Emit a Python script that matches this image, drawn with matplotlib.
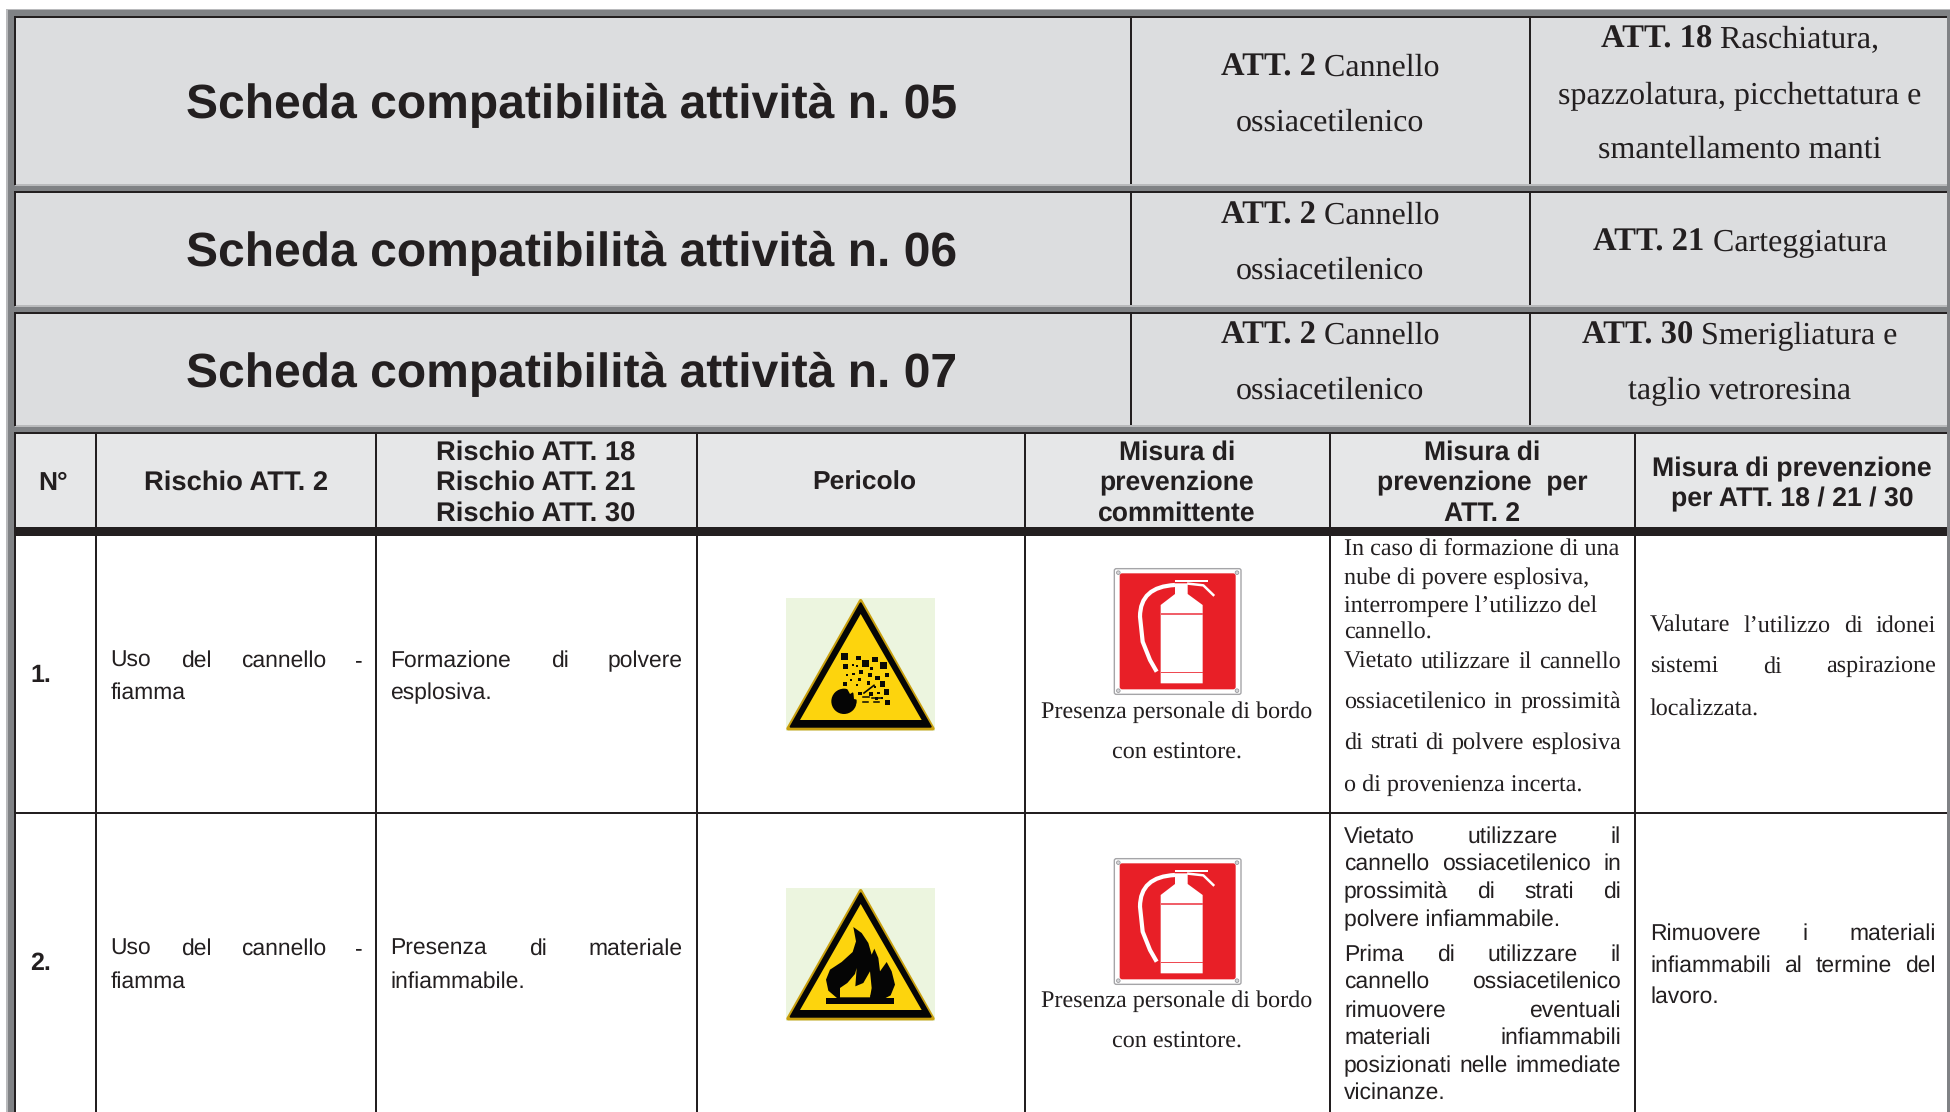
import matplotlib
matplotlib.use('Agg')
import matplotlib.pyplot as plt
from matplotlib.patches import Rectangle, Polygon, Circle, PathPatch, FancyBboxPatch
from matplotlib.path import Path

plt.rcParams['text.hinting'] = 'none'

SANS = 'Liberation Sans'
SERIF = 'Liberation Serif'
DARK = '#231f20'
GRAY = '#808285'
LIGHT = '#b9babc'
TITLE_BG = '#dcdddf'
HEAD_BG = '#e6e7e8'

# testi della tabella
titles = ['Scheda compatibilità attività n. 05',
          'Scheda compatibilità attività n. 06',
          'Scheda compatibilità attività n. 07']
att2_lines = [('ATT. 2', ' Cannello'), ('', 'ossiacetilenico')]
att_right = [
    [('ATT. 18', ' Raschiatura,'), ('', 'spazzolatura, picchettatura e'), ('', 'smantellamento manti')],
    [('ATT. 21', ' Carteggiatura')],
    [('ATT. 30', ' Smerigliatura e'), ('', 'taglio vetroresina')],
]
headers = [
    ['N°'],
    ['Rischio ATT. 2'],
    ['Rischio ATT. 18', 'Rischio ATT. 21', 'Rischio ATT. 30'],
    ['Pericolo'],
    ['Misura di', 'prevenzione', 'committente'],
    ['Misura di', 'prevenzione  per', 'ATT. 2'],
    ['Misura di prevenzione', 'per ATT. 18 / 21 / 30'],
]
row_numbers = ['1.', '2.']
rischio_att2 = ['Uso del cannello -', 'fiamma']
rischio_other = [['Formazione di polvere', 'esplosiva.'],
                 ['Presenza di materiale', 'infiammabile.']]
committente = ['Presenza personale di bordo', 'con estintore.']
prev_att2_r1_left = ['In caso di formazione di una', 'nube di povere esplosiva,',
                     'interrompere l’utilizzo del', 'cannello.']
prev_att2_r1_just = ['Vietato utilizzare il cannello', 'ossiacetilenico in prossimità',
                     'di strati di polvere esplosiva']
prev_att2_r1_last = 'o di provenienza incerta.'
prev_att2_r2 = ['Vietato utilizzare il', 'cannello ossiacetilenico in', 'prossimità di strati di',
                'polvere infiammabile.', 'Prima di utilizzare il', 'cannello ossiacetilenico',
                'rimuovere eventuali', 'materiali infiammabili',
                'posizionati nelle immediate', 'vicinanze.']
prev_att2_r2_justified = [True, True, True, False, True, True, True, True, True, False]
prev_other_r1 = ['Valutare l’utilizzo di idonei', 'sistemi di aspirazione', 'localizzata.']
prev_other_r2 = ['Rimuovere i materiali', 'infiammabili al termine del', 'lavoro.']

fig = plt.figure(figsize=(19.5, 11.12), dpi=100)
ax = fig.add_axes([0, 0, 1, 1])
ax.set_xlim(0, 1950)
ax.set_ylim(1112, 0)
ax.axis('off')
renderer = fig.canvas.get_renderer()


def box(x0, y0, x1, y1, color, z=1):
    ax.add_patch(Rectangle((x0, y0), x1 - x0, y1 - y0, fc=color, ec='none', zorder=z))


def width(s, **kw):
    t = ax.text(0, 0, s, **kw)
    w = t.get_window_extent(renderer).width
    t.remove()
    return w


def put(x, y, s, ha='left', **kw):
    ax.text(x, y, s, ha=ha, va='baseline', color=DARK, **kw)


def justified(x0, x1, y, s, **kw):
    words = s.split()
    widths = [width(w, **kw) for w in words]
    gap = (x1 - x0 - sum(widths)) / (len(words) - 1)
    x = x0
    for w, wd in zip(words, widths):
        put(x, y, w, **kw)
        x += wd + gap


def mixed(cx, y, bold, plain, size):
    # riga centrata con parte in grassetto e parte normale
    if not bold:
        put(cx, y, plain, ha='center', family=SERIF, fontsize=size)
        return
    b = width(bold, family=SERIF, fontsize=size + 0.5, fontweight='bold')
    p = width(plain.replace(' ', '\u00a0'), family=SERIF, fontsize=size)
    x = cx - (b + p) / 2
    put(x, y, bold, family=SERIF, fontsize=size + 0.5, fontweight='bold')
    put(x + b, y, plain.replace(' ', '\u00a0'), family=SERIF, fontsize=size)


def warning_sign(x0, y0, kind):
    # coordinate in pixel dello zoom 3x, origine x0,y0
    P = lambda pts: [(x0 + a / 3, y0 + b / 3) for a, b in pts]
    box(x0 + 78 / 3, y0, x0 + 525 / 3, y0 + 398 / 3 + 0, '#ecf5df', z=2)
    ax.add_patch(Polygon(P([(302, 8), (84, 392), (519, 392)]), fc='#e0b00f', ec='#c9a00f', lw=2.5,
                         joinstyle='round', zorder=3))
    ax.add_patch(Polygon(P([(302, 16), (92, 386), (512, 386)]), fc='#050505', ec='#050505', lw=1.5,
                         joinstyle='round', zorder=3))
    ax.add_patch(Polygon(P([(302, 48), (120, 366), (485, 366)]), fc='#fdd40d', ec='none', zorder=3))
    if kind == 'explosion':
        ax.add_patch(Circle((x0 + 252 / 3, y0 + 310 / 3), 38 / 3, fc='#050505', ec='none', zorder=4))
        ax.add_patch(Polygon(P([(258, 266), (270, 288), (280, 282), (282, 303), (296, 306), (288, 322), (302, 332), (312, 290), (290, 262)]),
                             fc='#fdd40d', ec='none', zorder=4))
        frags = [(254, 175, 10), (295, 180, 7), (317, 197, 10), (345, 185, 8), (370, 203, 11), (257, 206, 8),
                 (278, 200, 3), (292, 205, 3), (303, 222, 6), (335, 212, 5), (262, 230, 3), (281, 228, 4),
                 (330, 232, 6), (353, 240, 7), (381, 232, 6), (298, 245, 5), (255, 258, 5), (272, 246, 3),
                 (325, 255, 5), (367, 258, 8), (290, 262, 3), (345, 268, 3), (300, 287, 5), (332, 288, 6),
                 (380, 282, 8), (355, 285, 4), (383, 313, 8), (365, 300, 3), (350, 302, 4)]
        for a, b, r in frags:
            box(x0 + (a - r) / 3, y0 + (b - r) / 3, x0 + (a + r) / 3, y0 + (b + r) / 3, '#0a0a05', z=4)
        ax.plot([x0 + 312 / 3, x0 + 342 / 3], [y0 + 285 / 3, y0 + 262 / 3], color='#0a0a05', lw=1.2, zorder=4)
        for a0, a1, b in [(310, 328, 297), (335, 362, 300), (310, 325, 313), (342, 358, 313)]:
            ax.plot([x0 + a0 / 3, x0 + a1 / 3], [y0 + b / 3, y0 + b / 3], color='#0a0a05', lw=1.1, zorder=4)
    else:
        ax.add_patch(Polygon(P([(198, 331), (402, 331), (402, 347), (198, 347)]), fc='#050505', ec='none', zorder=4))
        ax.add_patch(Polygon(P([(232, 331), (205, 308), (198, 275), (210, 245), (245, 222), (278, 192), (288, 160), (280, 117),
                                (305, 135), (325, 165), (335, 200), (343, 182), (355, 210), (360, 250), (380, 222), (395, 250),
                                (405, 290), (392, 322), (375, 331)]), fc='#050505', ec='none', zorder=4))
        ax.add_patch(Polygon(P([(240, 328), (240, 300), (262, 285), (285, 258), (290, 240), (286, 295), (310, 285), (330, 250), (335, 300), (330, 328)]),
                             fc='#fdd40d', ec='none', zorder=4))
        ax.add_patch(Polygon(P([(330, 325), (345, 300), (358, 262), (365, 285), (352, 315), (345, 328)]),
                             fc='#050505', ec='none', zorder=4))


def fire_sign(x0, y0):
    P = lambda pts: [(x0 + a / 3, y0 + b / 3) for a, b in pts]
    ax.add_patch(FancyBboxPatch((x0 + 1063 / 3, y0 - 4 / 3), 380 / 3, 377 / 3, boxstyle='round,pad=0,rounding_size=2',
                                fc='white', ec='#a5a5a8', lw=1.0, zorder=2))
    ax.add_patch(FancyBboxPatch((x0 + 1079 / 3, y0 + 10 / 3), 348 / 3, 348 / 3, boxstyle='round,pad=0,rounding_size=2.5',
                                fc='#e81f27', ec='none', zorder=3))
    for a, b in [(1075, 8), (1431, 8), (1075, 362), (1431, 362)]:
        ax.add_patch(Circle((x0 + a / 3, y0 + b / 3), 1.8, fc='#d5d5d8', ec='#9a9a9d', lw=0.6, zorder=3))
    ax.add_patch(Polygon(P([(1202, 105), (1245, 72), (1245, 40), (1283, 40), (1283, 72), (1328, 105), (1328, 340), (1202, 340)]),
                         fc='white', ec='none', zorder=4))
    box(x0 + 1202 / 3, y0 + 130 / 3, x0 + 1328 / 3, y0 + 135 / 3, '#f0606a', z=4)
    box(x0 + 1202 / 3, y0 + 305 / 3, x0 + 1328 / 3, y0 + 310 / 3, '#ee4a52', z=4)
    box(x0 + 1245 / 3, y0 + 29 / 3, x0 + 1345 / 3, y0 + 35 / 3, 'white', z=4)
    ax.plot([x0 + 1285 / 3, x0 + 1330 / 3, x0 + 1360 / 3], [y0 + 41 / 3, y0 + 46 / 3, y0 + 75 / 3], color='white', lw=1.8, zorder=4)
    hose = Path(P([(1245, 45), (1140, 50), (1140, 140), (1148, 215), (1170, 270), (1190, 305)]),
                [Path.MOVETO, Path.CURVE3, Path.CURVE3, Path.LINETO, Path.LINETO, Path.LINETO])
    ax.add_patch(PathPatch(hose, fc='none', ec='white', lw=3.0, zorder=4))


# cornice e fasce delle schede
box(6, 9, 1950, 1112, LIGHT, z=0)
box(8, 10, 1950, 1112, GRAY, z=0)
band_rows = [(17, 184, 1.2, True), (192, 305, 2.2, False), (313, 425, 1.2, True)]
for y0, y1, t, tick in band_rows:
    box(15, y0, 1947, y1, TITLE_BG)
    box(15, y0 - t / 2 - 0.3, 1947, y0 + t / 2, DARK, z=2)
    box(14, y0 - 1, 16, y1 + 1, DARK, z=2)
    box(15, y1, 1947, y1 + 2, LIGHT)
    for x in (1131, 1530):
        box(x - 0.8, y0, x + 0.8, y1, DARK, z=2)
        if tick:
            box(x - 0.8, y0 - 0.5, x + 7, y0 + 1.2, DARK, z=2)
box(14, 432, 1947, 1112, 'white')
box(14, 432, 1947, 527, HEAD_BG)
box(14, 432, 1947, 434, DARK, z=2)
box(14, 432, 16, 1112, DARK, z=2)
box(14, 527, 1947, 536, DARK, z=2)
box(14, 811.5, 1947, 813.5, DARK, z=2)
for x in (96, 376, 697, 1025, 1330, 1635):
    box(x - 1.3, 432, x + 1.3, 1112, DARK, z=2)

# titoli
for y, s in zip((118, 266, 387), titles):
    put(186, y, s, family=SANS, fontsize=34.6, fontweight='bold')

# celle in alto a destra
for ys, lines in zip([(76, 131), (224, 279), (344, 399)], [att2_lines] * 3):
    for y, (b, p) in zip(ys, lines):
        mixed(1330, y, b, p, 23)
for ys, lines in zip([(48, 104, 158), (251,), (344, 399)], att_right):
    for y, (b, p) in zip(ys, lines):
        mixed(1740, y, b, p, 23)

# intestazione
head_x = [53, 236, 536, 864, 1177, 1482, 1792]
head_y = {1: (490,), 2: (476, 506), 3: (460, 490, 521)}
head_size = [19, 19.7, 19.7, 19, 19.1, 19.1, 19.2]
for cx, lines, fs in zip(head_x, headers, head_size):
    for y, s in zip(head_y[len(lines)], lines):
        put(cx, y, s, ha='center', family=SANS, fontsize=fs, fontweight='bold')

# righe
sans = dict(family=SANS, fontsize=16.5)
serif = dict(family=SERIF, fontsize=17.4)
for y, s in zip((682, 970), row_numbers):
    put(30, y, s, family=SANS, fontsize=18, fontweight='bold')
for k, (y0, y1) in enumerate([(667, 699), (955, 988)]):
    justified(110.5, 363, y0, rischio_att2[0], **sans)
    put(110.5, y1, rischio_att2[1], **sans)
    justified(390.5, 683, y0, rischio_other[k][0], **sans)
    put(390.5, y1, rischio_other[k][1], **sans)

warning_sign(760, 598, 'explosion')
warning_sign(760, 888, 'flame')
fire_sign(760, 570)
fire_sign(760, 860)
for ys in [(718, 759), (1007, 1048)]:
    for y, s in zip(ys, committente):
        put(1177, y, s, ha='center', **serif)

for y, s in zip((556, 584, 612, 639), prev_att2_r1_left):
    put(1344, y, s, **serif)
for y, s in zip((668, 708, 749), prev_att2_r1_just):
    justified(1344, 1621, y, s, **serif)
put(1344, 791, prev_att2_r1_last, **serif)
for y, s, j in zip((843, 870, 898, 926, 961, 988, 1017, 1044, 1072, 1099), prev_att2_r2, prev_att2_r2_justified):
    if j:
        justified(1344, 1621, y, s, **sans)
    else:
        put(1344, y, s, **sans)

for y, s in zip((632, 673), prev_other_r1[:2]):
    justified(1650, 1936, y, s, **serif)
put(1650, 716, prev_other_r1[2], **serif)
for y, s in zip((940, 972), prev_other_r2[:2]):
    justified(1650, 1936, y, s, **sans)
put(1650, 1003, prev_other_r2[2], **sans)

fig.savefig('out.png', dpi=100)
plt.close()
